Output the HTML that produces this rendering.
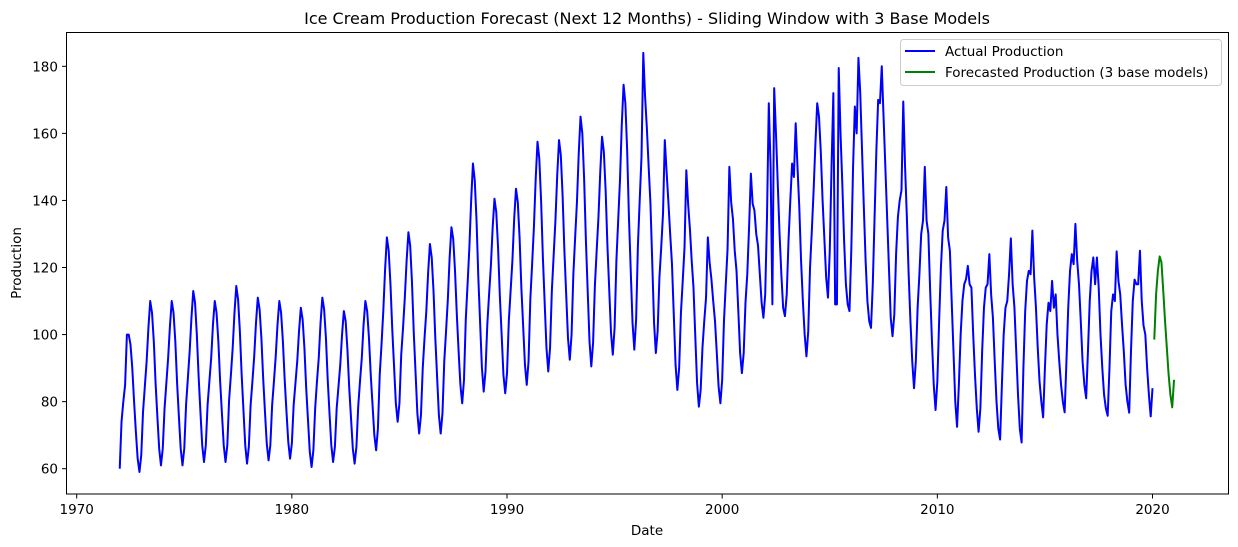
<!DOCTYPE html>
<html><head><meta charset="utf-8"><style>
body{margin:0;background:#fff;}
svg{display:block;font-family:"DejaVu Sans","Liberation Sans",sans-serif;}
</style></head><body>
<svg id="chart" width="1238" height="547" viewBox="0 0 1238 547" xmlns="http://www.w3.org/2000/svg">
<rect x="0" y="0" width="1238" height="547" fill="#fff"/>
<text x="647" y="24" font-size="16" text-anchor="middle">Ice Cream Production Forecast (Next 12 Months) - Sliding Window with 3 Base Models</text>
<g id="xticks"></g>
<g id="yticks"></g>
<path id="actual" fill="none" stroke="#0000ff" stroke-width="2" stroke-linejoin="round"/>
<path id="forecast" fill="none" stroke="#008000" stroke-width="2" stroke-linejoin="round"/>
<rect x="66.5" y="32.5" width="1162" height="461.5" fill="none" stroke="#000" stroke-width="1"/>
<text x="647" y="535" font-size="13.5" text-anchor="middle">Date</text>
<text x="21" y="263" font-size="13.5" text-anchor="middle" transform="rotate(-90 21 263)">Production</text>
<g>
<rect x="900.5" y="39.5" width="321" height="46" fill="#fff" fill-opacity="0.8" stroke="#ccc" rx="3"/>
<line x1="905" y1="51" x2="935" y2="51" stroke="#0000ff" stroke-width="2"/>
<text x="945" y="56" font-size="13.5">Actual Production</text>
<line x1="905" y1="72" x2="935" y2="72" stroke="#008000" stroke-width="2"/>
<text x="945" y="77" font-size="13.5">Forecasted Production (3 base models)</text>
</g>
</svg>
<script>
const startYear = 1972;
const production = [
60,74,80,85,100,100,97,90,80,71,63,59,
64,77,84.5,92,102,110,106.5,98,85.5,75.5,66,61,
66,78,85.5,93,102.5,110,106.5,98,85.5,75.5,66,61,
66,79,87,95,105,113,109.5,100,87.5,77,67,62,
67,79,86,93,103,110,106.5,98,86,76.5,67,62,
67,80.5,88,96,106.5,114.5,110.5,101,88,77.5,67,61.5,
66.5,79,86,93.5,103.5,111,107.5,99,87,77,67.5,62.5,
67,79,86,93.5,103,110,106.5,98,86.5,77,68,63,
67.5,79,85.5,92,101,108,104.5,96,84,74.5,65,60.5,
65.5,78,86,93,103.5,111,107.5,99,86.5,76.5,67,62,
66.5,78,84.5,91,100,107,104,95.5,84,75,66,61.5,
66.5,78.5,86,93,103,110,107,99,88,79,70,65.5,
72,88,97,107,119.5,129,125,115,101.5,90.5,79.5,74,
79.5,94,102,111,122,130.5,126.5,115.5,100.5,88.5,76.5,70.5,
76,90,99,107,118.5,127,123,113,99,87.5,76,70.5,
76.5,92,101,110.5,123,132,128.5,119,106,95,85,79.5,
86.5,104.5,115,126,140,151,146,134,117,103.5,90,83,
89,103,112,120.5,132,140.5,136.5,126,111.5,100,88,82.5,
88.5,104,113,122,134.5,143.5,139.5,129,114,102.5,91,85,
92,110.5,121,132,146.5,157.5,152.5,140,123,109.5,96,89,
96,113,123.5,134,147.5,158,153.5,141.5,125,112,99,92.5,
100,118,129,139.5,154,165,160,146.5,128,113,98,90.5,
97.5,114.5,125,135,148.5,159,154.5,143,126.5,113.5,100.5,94,
102,122,134,146,162.5,174.5,169,155,135,119,103.5,95.5,
104.5,126.5,140,153,184,171,161.5,150,139,121.5,103.5,94.5,
101,117,126,136,158,148.5,139.5,130,121,106,91,83.5,
90,106.5,116,126,149,139,131.5,122,114,99.5,85.5,78.5,
83.5,96,104,111,129,121.5,116.5,110,104,94.5,84.5,79.5,
86.5,104,115,125.5,150,139.5,134.5,125,119,107,94.5,88.5,
94.5,109.5,118,132,148,139,137,130,126.5,118,109.5,105,
112,135,169,150,109,173.5,160,145,130,118,108,105.5,
112,128,140,151,147,163,150,138,122,110,100,93.5,
101,120,131,143,157,169,165,154.5,140,128.5,117,111,
125,150,172,109,109,179.5,160,145,128,115,109,107,
125,150,168,160,182.5,172,155,138,122,110,104,102,
115,135,155,170,169,180,165,150,135,120,105,99.5,
106,124,135,140,143,169.5,150,135,118,104,92,84,
92,108,118,130,134,150,134,130,113,98,85,77.5,
86,104,120,131,134,144,129,125,110,95,80,72.5,
85,100,110,115,116.5,120.5,115,114,100,88,78,71,
78,95,108,114,115,124,112,105,92,80,72,68.7,
85,100,108,110,118,128.7,115,108,95,82,72,67.8,
90,107,116,119,118,131,117,108,96,86,80,75.3,
90,103,109.5,107,116,108,112,100,92,85,80,76.8,
92,108,119,124,121,133,122,115,104,92,85,81,
95,110,119,123,115,123,114,100,90,82,78,75.8,
90,107,112,110,124.8,116,112,103,95,85,80,76.7,
95,110,116.4,115,115,125,110,102.7,100,90,82,75.6,
84
];
const forecastStart = 2020 + 1/12;
const forecast = [98.5,112,119,123.3,121.5,113,104,96,88,82,78.3,86.5];
const xTickLabels = ["1970","1980","1990","2000","2010","2020"];
const yTickLabels = ["60","80","100","120","140","160","180"];

function xScale(t){ return 76.7 + (t-1970)*21.516; }
function yScale(v){ return 468.7 - (v-60)*3.3533; }

const NS="http://www.w3.org/2000/svg";
function pathFor(arr,t0){
  let d="";
  arr.forEach((v,i)=>{ d+=(i?"L":"M")+xScale(t0+i/12).toFixed(2)+","+yScale(v).toFixed(2); });
  return d;
}
document.getElementById("actual").setAttribute("d",pathFor(production,startYear));
document.getElementById("forecast").setAttribute("d",pathFor(forecast,forecastStart));

const xg=document.getElementById("xticks");
xTickLabels.forEach(l=>{
  const x=xScale(+l);
  const ln=document.createElementNS(NS,"line");
  
  
  ln.setAttribute("x1",x);ln.setAttribute("x2",x);ln.setAttribute("y1",494);ln.setAttribute("y2",498.5);ln.setAttribute("stroke","#000");
  xg.appendChild(ln);
  const tx=document.createElementNS(NS,"text");
  
  
  tx.setAttribute("x",x);tx.setAttribute("y",514);tx.setAttribute("font-size","13.5");tx.setAttribute("text-anchor","middle");
  tx.textContent=l;xg.appendChild(tx);
});
const yg=document.getElementById("yticks");
yTickLabels.forEach(l=>{
  const y=yScale(+l);
  const ln=document.createElementNS(NS,"line");
  
  
  ln.setAttribute("x1",62);ln.setAttribute("x2",66.5);ln.setAttribute("y1",y);ln.setAttribute("y2",y);ln.setAttribute("stroke","#000");
  yg.appendChild(ln);
  const tx=document.createElementNS(NS,"text");
  
  
  tx.setAttribute("x",58);tx.setAttribute("y",y+5);tx.setAttribute("font-size","13.5");tx.setAttribute("text-anchor","end");
  tx.textContent=l;yg.appendChild(tx);
});
</script>
</body></html>
